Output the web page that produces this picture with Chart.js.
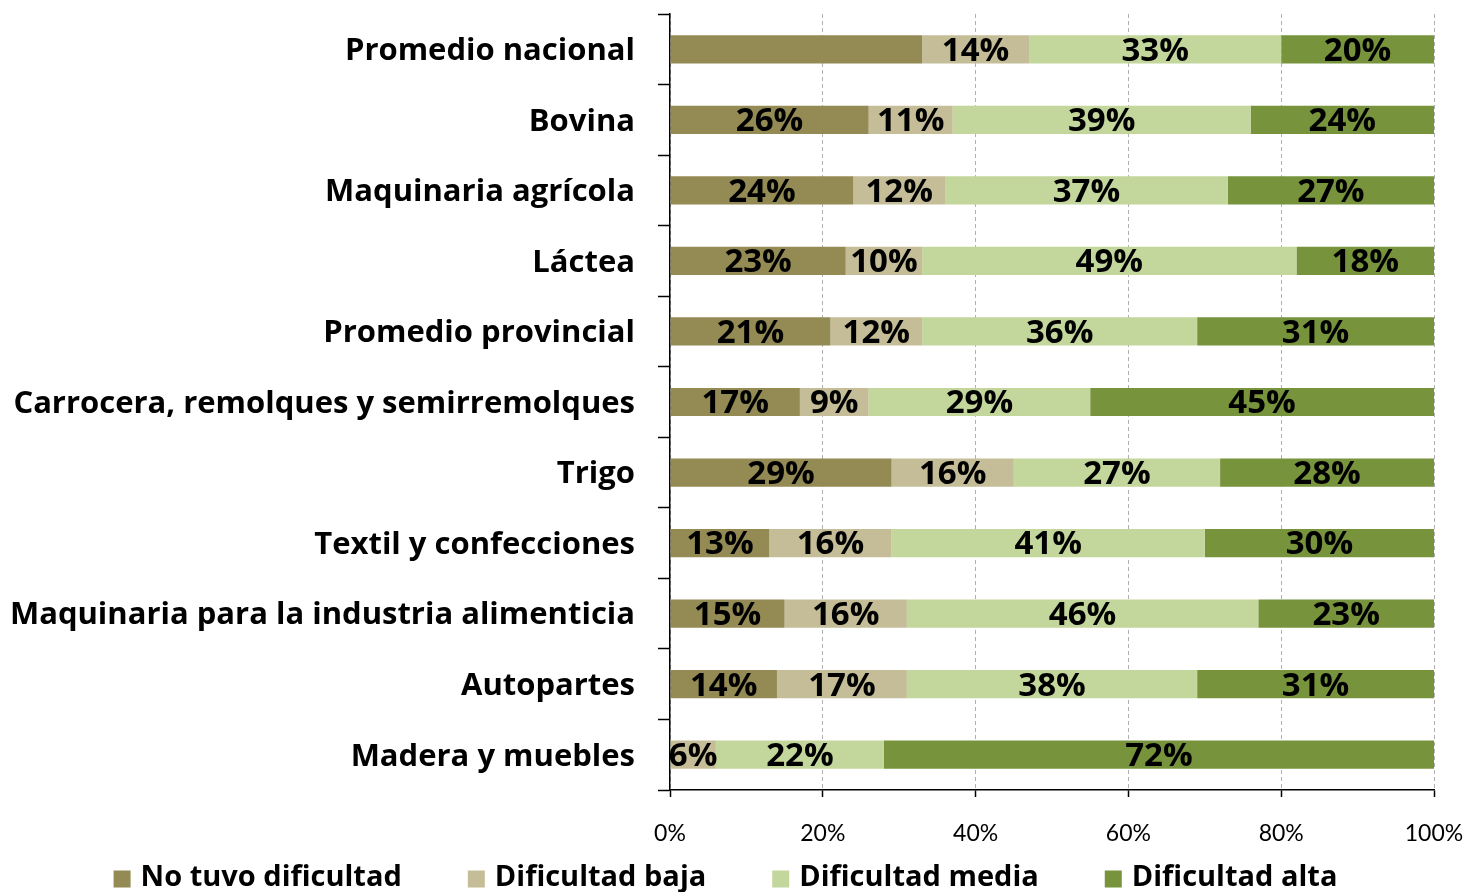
<!DOCTYPE html>
<html>
<head>
<meta charset="utf-8">
<script src="https://cdn.jsdelivr.net/npm/chart.js@4.4.0/dist/chart.umd.min.js"></script>
<style>
  html, body { margin: 0; padding: 0; background: #ffffff; }
  #wrap { width: 1469px; height: 892px; position: relative; }
</style>
</head>
<body>
<div id="wrap"><canvas id="c" width="1469" height="892"></canvas></div>
<script>
// ---- Data ----
const categories = [
  'Promedio nacional',
  'Bovina',
  'Maquinaria agrícola',
  'Láctea',
  'Promedio provincial',
  'Carrocera, remolques y semirremolques',
  'Trigo',
  'Textil y confecciones',
  'Maquinaria para la industria alimenticia',
  'Autopartes',
  'Madera y muebles'
];
const seriesNames = ['No tuvo dificultad', 'Dificultad baja', 'Dificultad media', 'Dificultad alta'];
const noTuvo = [33, 26, 24, 23, 21, 17, 29, 13, 15, 14, 0];
const baja   = [14, 11, 12, 10, 12,  9, 16, 16, 16, 17, 6];
const media  = [33, 39, 37, 49, 36, 29, 27, 41, 46, 38, 22];
const alta   = [20, 24, 27, 18, 31, 45, 28, 30, 23, 31, 72];
const xTicks = [0, 20, 40, 60, 80, 100];
// [seriesIndex, categoryIndex] of segments shown without a value label
const unlabeled = [[0, 0]];

const colors = ['#948A54', '#C4BD97', '#C3D69B', '#77933C'];
const FONT = '"Open Sans", Lato, sans-serif';
const TICKFONT = 'Lato, "Open Sans", sans-serif';

const datalabelPlugin = {
  id: 'segLabels',
  afterDatasetsDraw(chart) {
    const ctx = chart.ctx;
    ctx.save();
    ctx.font = 'bold 33px ' + FONT;
    ctx.fillStyle = '#000';
    ctx.textAlign = 'center';
    ctx.textBaseline = 'middle';
    chart.data.datasets.forEach((ds, di) => {
      const meta = chart.getDatasetMeta(di);
      meta.data.forEach((el, i) => {
        const v = ds.data[i];
        if (!v) return;
        if (unlabeled.some(p => p[0] === di && p[1] === i)) return;
        const c = el.getCenterPoint();
        ctx.fillText(v + '%', c.x, c.y + 2);
      });
    });
    ctx.restore();
  }
};

const legendPlugin = {
  id: 'bottomLegend',
  afterDraw(chart) {
    const ctx = chart.ctx;
    ctx.save();
    ctx.font = 'bold 29px ' + FONT;
    ctx.textBaseline = 'middle';
    ctx.textAlign = 'left';
    const box = 17, gap = 10, spacing = 66;
    const items = chart.data.datasets.map(d => ({ text: d.label, color: d.backgroundColor }));
    let total = 0;
    items.forEach((it, k) => {
      it.w = ctx.measureText(it.text).width;
      total += box + gap + it.w + (k < items.length - 1 ? spacing : 0);
    });
    let x = chart.width / 2 - 9 - total / 2;
    const y = 878;
    items.forEach(it => {
      ctx.fillStyle = it.color;
      ctx.fillRect(x, y - box / 2 + 1, box, box);
      ctx.fillStyle = '#000';
      ctx.fillText(it.text, x + box + gap, y);
      x += box + gap + it.w + spacing;
    });
    ctx.restore();
  }
};

new Chart(document.getElementById('c'), {
  type: 'bar',
  data: {
    labels: categories,
    datasets: [noTuvo, baja, media, alta].map((arr, k) => ({
      label: seriesNames[k],
      data: arr,
      backgroundColor: colors[k],
      borderWidth: 0,
      barPercentage: 0.4,
      categoryPercentage: 1.0
    }))
  },
  options: {
    indexAxis: 'y',
    responsive: false,
    animation: false,
    devicePixelRatio: 1,
    layout: { padding: { top: 14, right: 35, bottom: 50, left: 0 } },
    plugins: {
      legend: { display: false },
      tooltip: { enabled: false }
    },
    scales: {
      x: {
        stacked: true,
        min: 0,
        max: 100,
        afterBuildTicks(scale) { scale.ticks = xTicks.map(v => ({ value: v })); },
        afterFit(scale) {
          scale.height = 52;
          scale.paddingLeft = 0; scale.paddingRight = 0;
        },
        ticks: {
          callback: v => v + '%',
          color: '#000',
          font: { family: TICKFONT, size: 23 },
          padding: 23,
          maxRotation: 0
        },
        grid: {
          color: '#B0B0B0',
          lineWidth: 1,
          tickColor: '#000',
          tickLength: 7,
          tickWidth: 1.5
        },
        border: { display: true, color: '#000', width: 1.5, dash: [4, 3] }
      },
      y: {
        stacked: true,
        afterFit(scale) {
          scale.width = 670;
          scale.paddingTop = 0; scale.paddingBottom = 0;
        },
        ticks: {
          color: '#000',
          font: { family: FONT, size: 31, weight: 'bold' },
          padding: 23,
          labelOffset: 2
        },
        grid: {
          display: true,
          drawOnChartArea: false,
          offset: true,
          tickLength: 12,
          tickColor: '#000',
          tickWidth: 1.5,
          color: '#000'
        },
        border: { display: true, color: '#000', width: 1.5 }
      }
    }
  },
  plugins: [datalabelPlugin, legendPlugin]
});
</script>
</body>
</html>
